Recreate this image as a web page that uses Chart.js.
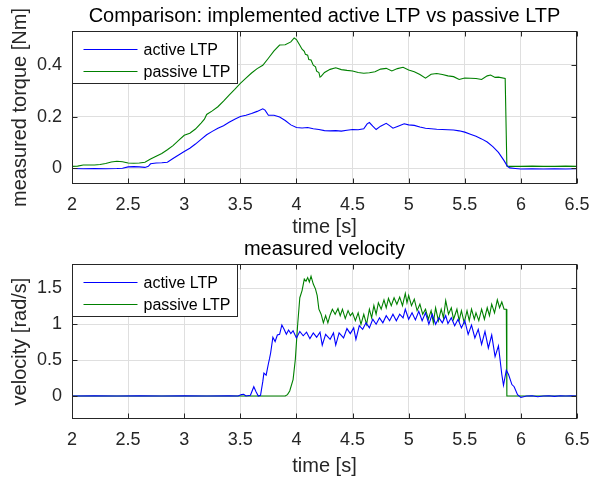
<!DOCTYPE html>
<html>
<head>
<meta charset="utf-8">
<title>Comparison: implemented active LTP vs passive LTP</title>
<script src="https://cdn.jsdelivr.net/npm/chart.js@4.4.0/dist/chart.umd.min.js"></script>
<style>
    html, body { margin: 0; padding: 0; background: #fff; }
    #wrap { position: relative; width: 606px; height: 479px; }
    #torqueChart { position: absolute; left: 0; top: 0; }
    #velocityChart { position: absolute; left: 0; top: 240px; }
</style>
</head>
<body>
<div id="wrap">
    <canvas id="torqueChart" width="606" height="240"></canvas>
    <canvas id="velocityChart" width="606" height="239"></canvas>
</div>
<script>
// tick labels
const timeTicks = [2, 2.5, 3, 3.5, 4, 4.5, 5, 5.5, 6, 6.5];
const torqueTicks = [0, 0.2, 0.4];
const velocityTicks = [0, 0.5, 1, 1.5];

const seriesNames = ['active LTP', 'passive LTP'];
const seriesColors = ['#0000ff', '#008000'];

// [time s, torque Nm]
const activeTorque = [
    [2.0, 0.000], [2.1, -0.001], [2.2, 0.000], [2.3, -0.001], [2.4, 0.000], [2.45, 0.001],
    [2.5, 0.006], [2.55, 0.007], [2.6, 0.006], [2.65, 0.004], [2.68, 0.008], [2.7, 0.018],
    [2.75, 0.021], [2.8, 0.022], [2.85, 0.024], [2.9, 0.038], [2.95, 0.052], [3.0, 0.065],
    [3.05, 0.078], [3.1, 0.094], [3.15, 0.112], [3.2, 0.130], [3.25, 0.143], [3.3, 0.155],
    [3.35, 0.165], [3.4, 0.178], [3.45, 0.190], [3.5, 0.200], [3.55, 0.205], [3.6, 0.212],
    [3.65, 0.220], [3.7, 0.230], [3.72, 0.225], [3.75, 0.205], [3.8, 0.205], [3.85, 0.198],
    [3.9, 0.185], [3.95, 0.168], [4.0, 0.158], [4.05, 0.156], [4.1, 0.158], [4.15, 0.153],
    [4.2, 0.150], [4.25, 0.146], [4.3, 0.145], [4.35, 0.146], [4.4, 0.144], [4.45, 0.147],
    [4.5, 0.150], [4.55, 0.149], [4.6, 0.153], [4.63, 0.172], [4.65, 0.177], [4.68, 0.163],
    [4.71, 0.150], [4.75, 0.163], [4.8, 0.174], [4.83, 0.165], [4.86, 0.155], [4.9, 0.162],
    [4.96, 0.172], [5.0, 0.168], [5.05, 0.166], [5.1, 0.160], [5.15, 0.155], [5.2, 0.153],
    [5.25, 0.151], [5.3, 0.150], [5.35, 0.149], [5.4, 0.148], [5.45, 0.145], [5.5, 0.140],
    [5.55, 0.132], [5.6, 0.124], [5.65, 0.114], [5.7, 0.102], [5.75, 0.084], [5.8, 0.062],
    [5.85, 0.030], [5.88, 0.008], [5.9, 0.002], [5.95, 0.000], [6.0, -0.002], [6.1, -0.001],
    [6.2, -0.002], [6.3, -0.001], [6.4, -0.002], [6.5, -0.001]
];

const passiveTorque = [
    [2.0, 0.008], [2.05, 0.009], [2.1, 0.013], [2.15, 0.013], [2.2, 0.013], [2.25, 0.015],
    [2.3, 0.019], [2.35, 0.025], [2.4, 0.028], [2.45, 0.026], [2.5, 0.021], [2.55, 0.020],
    [2.6, 0.021], [2.65, 0.024], [2.7, 0.036], [2.75, 0.047], [2.8, 0.058], [2.85, 0.072],
    [2.9, 0.088], [2.95, 0.108], [3.0, 0.128], [3.05, 0.136], [3.1, 0.152], [3.15, 0.175],
    [3.18, 0.190], [3.2, 0.208], [3.25, 0.222], [3.3, 0.238], [3.35, 0.260], [3.4, 0.283],
    [3.45, 0.305], [3.5, 0.328], [3.55, 0.348], [3.6, 0.368], [3.65, 0.385], [3.7, 0.398],
    [3.75, 0.425], [3.8, 0.453], [3.85, 0.476], [3.9, 0.477], [3.95, 0.488], [3.98, 0.503],
    [4.0, 0.497], [4.03, 0.475], [4.05, 0.460], [4.07, 0.452], [4.08, 0.440], [4.1, 0.437],
    [4.11, 0.420], [4.13, 0.418], [4.15, 0.398], [4.17, 0.392], [4.18, 0.375], [4.2, 0.370],
    [4.21, 0.352], [4.22, 0.355], [4.25, 0.370], [4.3, 0.382], [4.35, 0.388], [4.4, 0.381],
    [4.45, 0.378], [4.5, 0.376], [4.55, 0.370], [4.6, 0.367], [4.65, 0.369], [4.7, 0.373],
    [4.75, 0.383], [4.8, 0.386], [4.85, 0.376], [4.9, 0.385], [4.95, 0.390], [5.0, 0.380],
    [5.05, 0.373], [5.1, 0.362], [5.15, 0.348], [5.2, 0.363], [5.25, 0.366], [5.3, 0.362],
    [5.35, 0.357], [5.4, 0.354], [5.45, 0.343], [5.5, 0.349], [5.55, 0.348], [5.6, 0.347],
    [5.65, 0.343], [5.7, 0.357], [5.73, 0.360], [5.77, 0.351], [5.8, 0.352], [5.86, 0.347],
    [5.875, 0.009], [5.9, 0.008], [6.0, 0.008], [6.1, 0.009], [6.2, 0.008], [6.3, 0.008],
    [6.4, 0.009], [6.5, 0.008]
];

// [time s, velocity rad/s]
const activeVelocity = [
    [2.0, 0.0], [2.2, 0.002], [2.4, 0.0], [2.6, 0.002], [2.8, 0.0], [3.0, 0.002], [3.2, 0.0],
    [3.4, 0.003], [3.48, 0.0], [3.51, 0.02], [3.53, 0.025], [3.55, 0.0], [3.59, 0.01],
    [3.62, 0.13], [3.64, 0.06], [3.66, 0.0], [3.68, 0.01], [3.7, 0.2], [3.71, 0.32],
    [3.73, 0.29], [3.75, 0.45], [3.76, 0.52], [3.77, 0.6], [3.79, 0.82], [3.81, 0.76],
    [3.83, 0.85], [3.85, 0.86], [3.87, 0.99], [3.89, 0.93], [3.91, 0.86], [3.93, 0.92],
    [3.95, 0.87], [3.97, 0.91], [4.0, 0.81], [4.03, 0.9], [4.06, 0.84], [4.09, 0.89],
    [4.12, 0.8], [4.15, 0.88], [4.18, 0.82], [4.21, 0.89], [4.23, 0.71], [4.26, 0.86],
    [4.3, 0.79], [4.33, 0.88], [4.35, 0.71], [4.38, 0.88], [4.42, 0.81], [4.45, 0.94],
    [4.48, 0.87], [4.51, 0.95], [4.53, 0.79], [4.56, 0.98], [4.59, 0.93], [4.62, 1.02],
    [4.65, 0.95], [4.68, 1.07], [4.71, 1.0], [4.74, 1.09], [4.77, 1.02], [4.8, 1.12],
    [4.83, 1.05], [4.86, 1.14], [4.89, 1.05], [4.92, 1.14], [4.95, 1.09], [4.97, 1.21],
    [5.0, 1.07], [5.03, 1.16], [5.06, 1.06], [5.09, 1.18], [5.12, 1.05], [5.15, 1.16],
    [5.18, 1.0], [5.21, 1.14], [5.24, 1.0], [5.27, 1.09], [5.3, 1.02], [5.33, 1.12],
    [5.35, 1.01], [5.38, 1.09], [5.41, 0.98], [5.44, 1.07], [5.47, 0.95], [5.5, 1.05],
    [5.53, 0.86], [5.56, 0.99], [5.59, 0.81], [5.62, 0.93], [5.65, 0.72], [5.68, 0.9],
    [5.71, 0.67], [5.74, 0.85], [5.77, 0.55], [5.8, 0.7], [5.83, 0.3], [5.845, 0.15],
    [5.87, 0.36], [5.89, 0.3], [5.92, 0.16], [5.94, 0.13], [5.97, 0.02], [6.0, -0.02],
    [6.05, 0.0], [6.1, 0.003], [6.15, -0.01], [6.2, 0.0], [6.25, 0.004], [6.3, -0.005],
    [6.35, 0.003], [6.4, 0.0], [6.45, 0.004], [6.5, 0.0]
];

const passiveVelocity = [
    [2.0, 0.0], [2.5, 0.0], [3.0, 0.0], [3.5, 0.0], [3.9, 0.0], [3.92, 0.02], [3.94, 0.07],
    [3.97, 0.23], [3.99, 0.51], [4.01, 0.98], [4.03, 1.37], [4.05, 1.47], [4.07, 1.63],
    [4.085, 1.6], [4.1, 1.65], [4.115, 1.59], [4.13, 1.67], [4.15, 1.56], [4.17, 1.49],
    [4.185, 1.4], [4.2, 1.21], [4.22, 1.14], [4.24, 1.02], [4.26, 1.12], [4.28, 1.02],
    [4.3, 1.13], [4.32, 1.21], [4.345, 1.14], [4.37, 1.22], [4.39, 1.12], [4.41, 1.21],
    [4.435, 1.08], [4.46, 1.19], [4.48, 1.12], [4.5, 1.16], [4.525, 1.05], [4.55, 1.16],
    [4.575, 1.0], [4.6, 1.14], [4.625, 1.0], [4.65, 1.21], [4.67, 1.09], [4.69, 1.26],
    [4.71, 1.14], [4.73, 1.3], [4.755, 1.21], [4.78, 1.34], [4.8, 1.23], [4.82, 1.36],
    [4.845, 1.26], [4.87, 1.37], [4.895, 1.28], [4.92, 1.38], [4.945, 1.26], [4.97, 1.43],
    [4.985, 1.3], [5.0, 1.4], [5.025, 1.26], [5.05, 1.35], [5.075, 1.19], [5.1, 1.28],
    [5.125, 1.14], [5.15, 1.21], [5.175, 1.07], [5.2, 1.19], [5.22, 1.02], [5.24, 1.23],
    [5.265, 1.05], [5.29, 1.21], [5.31, 1.09], [5.33, 1.33], [5.355, 1.14], [5.38, 1.23],
    [5.4, 1.07], [5.43, 1.21], [5.45, 1.05], [5.47, 1.19], [5.495, 1.02], [5.52, 1.19],
    [5.54, 1.05], [5.56, 1.21], [5.585, 1.07], [5.6, 1.16], [5.625, 1.05], [5.65, 1.21],
    [5.675, 1.07], [5.7, 1.23], [5.72, 1.12], [5.74, 1.28], [5.765, 1.16], [5.79, 1.34],
    [5.81, 1.23], [5.83, 1.31], [5.85, 1.21], [5.87, 1.21], [5.875, 0.0], [6.0, 0.0],
    [6.5, 0.0]
];

const FONT = '"Liberation Sans", Arial, Helvetica, sans-serif';
const AXIS_COLOR = '#262626';

Chart.defaults.font.family = FONT;
Chart.defaults.color = AXIS_COLOR;

// Draws the MATLAB style frame: box, inward ticks, titles and the boxed legend
const matlabFrame = {
    id: 'matlabFrame',
    afterDraw(chart, args, opts) {
        const ctx = chart.ctx;
        const a = chart.chartArea;
        const xs = chart.scales.x;
        const ys = chart.scales.y;
        const left = Math.round(a.left) + 0.5;
        const right = Math.round(a.right) - 0.5;
        const top = Math.round(a.top) + 0.5;
        const bottom = Math.round(a.bottom) - 0.5;

        ctx.save();
        ctx.strokeStyle = AXIS_COLOR;
        ctx.lineWidth = 1;
        ctx.strokeRect(left, top, right - left, bottom - top);

        ctx.beginPath();
        xs.ticks.forEach(t => {
            const px = Math.round(xs.getPixelForValue(t.value)) + 0.5;
            ctx.moveTo(px, bottom); ctx.lineTo(px, bottom - 5);
            ctx.moveTo(px, top); ctx.lineTo(px, top + 5);
        });
        ys.ticks.forEach(t => {
            const py = Math.round(ys.getPixelForValue(t.value)) + 0.5;
            ctx.moveTo(left, py); ctx.lineTo(left + 5, py);
            ctx.moveTo(right, py); ctx.lineTo(right - 5, py);
        });
        ctx.stroke();

        // title and axis labels
        const midX = (a.left + a.right) / 2;
        const midY = (a.top + a.bottom) / 2;
        ctx.font = '20px ' + FONT;
        ctx.textAlign = 'center';
        ctx.textBaseline = 'middle';
        ctx.fillStyle = '#000';
        ctx.fillText(opts.title, midX, opts.titleY);
        ctx.fillStyle = AXIS_COLOR;
        ctx.fillText(opts.xLabel, midX, opts.xLabelY);
        ctx.save();
        ctx.translate(opts.yLabelX, midY);
        ctx.rotate(-Math.PI / 2);
        ctx.fillText(opts.yLabel, 0, 0);
        ctx.restore();

        // legend in the upper left corner
        const lx = left, ly = top;
        const lw = 165, lh = 52;
        ctx.fillStyle = '#fff';
        ctx.fillRect(lx, ly, lw, lh);
        ctx.strokeStyle = AXIS_COLOR;
        ctx.strokeRect(lx, ly, lw, lh);
        ctx.font = '16px ' + FONT;
        ctx.textAlign = 'left';
        seriesNames.forEach((name, i) => {
            const rowY = Math.round(ly + 17 + i * 22) + 0.5;
            ctx.strokeStyle = seriesColors[i];
            ctx.lineWidth = 1;
            ctx.beginPath();
            ctx.moveTo(lx + 11, rowY);
            ctx.lineTo(lx + 65, rowY);
            ctx.stroke();
            ctx.fillStyle = '#000';
            ctx.fillText(name, lx + 71, rowY + 1);
        });
        ctx.restore();
    }
};

function toPoints(rows) {
    return rows.map(r => ({ x: r[0], y: r[1] }));
}

function makeChart(canvasId, active, passive, yTicks, yMin, yMax, frame, padTop, xHeight) {
    const ctx = document.getElementById(canvasId).getContext('2d');
    return new Chart(ctx, {
        type: 'line',
        data: {
            datasets: [active, passive].map((rows, i) => ({
                label: seriesNames[i],
                data: toPoints(rows),
                borderColor: seriesColors[i],
                borderWidth: 1.1,
                pointRadius: 0,
                tension: 0,
                fill: false
            }))
        },
        options: {
            responsive: false,
            animation: false,
            events: [],
            layout: { padding: { left: 0, right: 29, top: padTop, bottom: 0 } },
            scales: {
                x: {
                    type: 'linear',
                    min: 2,
                    max: 6.5,
                    afterBuildTicks: scale => { scale.ticks = timeTicks.map(v => ({ value: v })); },
                    afterFit: scale => { scale.height = xHeight; },
                    grid: { color: '#dfdfdf', drawTicks: false },
                    border: { display: false },
                    ticks: {
                        padding: 10,
                        maxRotation: 0,
                        font: { size: 18 },
                        color: AXIS_COLOR,
                        callback: v => String(v)
                    }
                },
                y: {
                    type: 'linear',
                    min: yMin,
                    max: yMax,
                    afterBuildTicks: scale => { scale.ticks = yTicks.map(v => ({ value: v })); },
                    afterFit: scale => { scale.width = 72; },
                    grid: { color: '#dfdfdf', drawTicks: false },
                    border: { display: false },
                    ticks: {
                        padding: 10,
                        font: { size: 18 },
                        color: AXIS_COLOR,
                        callback: v => String(v)
                    }
                }
            },
            plugins: {
                legend: { display: false },
                title: { display: false },
                tooltip: { enabled: false },
                matlabFrame: frame
            }
        },
        plugins: [matlabFrame]
    });
}

makeChart('torqueChart', activeTorque, passiveTorque, torqueTicks, -0.06, 0.53, {
    title: 'Comparison: implemented active LTP vs passive LTP',
    titleY: 16,
    xLabel: 'time [s]',
    xLabelY: 227,
    yLabel: 'measured torque [Nm]',
    yLabelX: 20
}, 31, 56);

makeChart('velocityChart', activeVelocity, passiveVelocity, velocityTicks, -0.32, 1.84, {
    title: 'measured velocity',
    titleY: 9,
    xLabel: 'time [s]',
    xLabelY: 226,
    yLabel: 'velocity [rad/s]',
    yLabelX: 20
}, 24, 60);
</script>
</body>
</html>
